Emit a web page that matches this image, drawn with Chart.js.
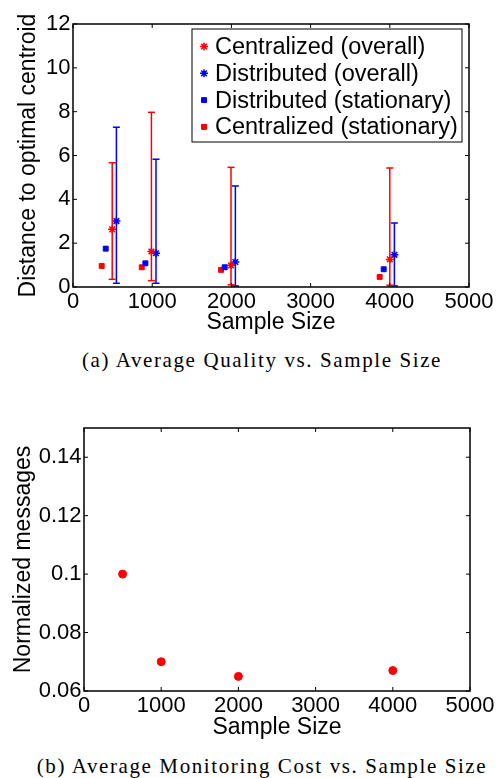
<!DOCTYPE html>
<html>
<head>
<meta charset="utf-8">
<script src="https://cdn.jsdelivr.net/npm/chart.js@4.4.1/dist/chart.umd.min.js"></script>
<style>
  body { margin:0; background:#fff; width:498px; height:778px; position:relative; overflow:hidden; }
  canvas { position:absolute; left:0; }
  #c1 { top:0; }
  #c2 { top:380px; }
  .cap { position:absolute; left:0; width:498px; padding-left:26px; box-sizing:border-box; text-align:center;
         font-family:"Liberation Serif", serif; font-size:21px; line-height:24px; letter-spacing:1.6px; color:#000; white-space:nowrap; }
</style>
</head>
<body>
<canvas id="c1" width="498" height="340"></canvas>
<div class="cap" style="top:348px">(a) Average Quality vs. Sample Size</div>
<canvas id="c2" width="498" height="365"></canvas>
<div class="cap" style="top:754px">(b) Average Monitoring Cost vs. Sample Size</div>
<script>
// tick labels
const xTicks = [0, 1000, 2000, 3000, 4000, 5000];
const qualityTicks = [0, 2, 4, 6, 8, 10, 12];
const costTicks = [0.06, 0.08, 0.1, 0.12, 0.14];

// (a) quality — markers are slightly offset around each sample size
const centOverallX = [495, 990, 1995, 4000];
const centOverall = [2.63, 1.62, 0.99, 1.26];
const centLow = [0.35, 0.29, 0.10, 0.08];
const centHigh = [5.67, 7.97, 5.46, 5.43];

const distOverallX = [548, 1048, 2050, 4058];
const distOverall = [3.01, 1.54, 1.14, 1.47];
const distLow = [0.17, 0.17, 0.05, 0.05];
const distHigh = [7.29, 5.83, 4.61, 2.92];

const distStatX = [413, 914, 1915, 3923];
const distStat = [1.75, 1.08, 0.90, 0.81];

const centStatX = [362, 868, 1869, 3872];
const centStat = [0.96, 0.90, 0.78, 0.46];

// (b) monitoring cost
const sampleSizes = [500, 1000, 2000, 4000];
const normMessages = [0.100, 0.070, 0.065, 0.067];

const RED = '#ff0000';
const BLUE = '#0000ff';

Chart.defaults.font.family = '"Liberation Sans", Arial, sans-serif';
Chart.defaults.color = '#000';

const pts = (xs, ys) => xs.map((x, i) => ({x: x, y: ys[i]}));

// matlab style box with inward ticks on all four sides
const frame = {
  id: 'frame',
  afterDatasetsDraw(chart) {
    const {ctx, chartArea: a, scales: {x, y}} = chart;
    ctx.save();
    ctx.strokeStyle = '#000';
    ctx.lineWidth = 1;
    ctx.beginPath();
    x.ticks.forEach(t => {
      const px = x.getPixelForValue(t.value);
      ctx.moveTo(px, a.bottom); ctx.lineTo(px, a.bottom - 4);
      ctx.moveTo(px, a.top); ctx.lineTo(px, a.top + 4);
    });
    y.ticks.forEach(t => {
      const py = y.getPixelForValue(t.value);
      ctx.moveTo(a.left, py); ctx.lineTo(a.left + 4, py);
      ctx.moveTo(a.right, py); ctx.lineTo(a.right - 4, py);
    });
    ctx.stroke();
    ctx.lineWidth = 1.5;
    ctx.strokeRect(a.left, a.top, a.right - a.left, a.bottom - a.top);
    ctx.restore();
  }
};

// legend box inside the plot (top right)
const boxLegend = {
  id: 'boxLegend',
  afterDraw(chart) {
    const items = chart.data.datasets.filter(d => d.label);
    const {ctx, chartArea: a} = chart;
    const left = a.left + 119, top = a.top + 5, w = 270, h = 113;
    ctx.save();
    ctx.fillStyle = '#fff';
    ctx.fillRect(left, top, w, h);
    ctx.strokeStyle = '#000';
    ctx.lineWidth = 1;
    ctx.strokeRect(left, top, w, h);
    ctx.font = '23.5px "Liberation Sans", Arial, sans-serif';
    ctx.textBaseline = 'middle';
    items.forEach((d, i) => {
      const cy = top + 17.5 + i * 26.8;
      ctx.fillStyle = d.pointBackgroundColor;
      ctx.strokeStyle = d.pointBorderColor;
      ctx.lineWidth = d.pointBorderWidth;
      Chart.helpers.drawPoint(ctx, {pointStyle: d.pointStyle, radius: d.pointRadius, rotation: 0, borderWidth: d.pointBorderWidth}, left + 12, cy);
      ctx.fillStyle = '#000';
      ctx.fillText(d.label, left + 23, cy + 1);
    });
    ctx.restore();
  }
};

function errorBars(xs, lows, highs, color) {
  return xs.map((x, i) => ({
    data: [{x: x, y: lows[i]}, {x: x, y: highs[i]}],
    showLine: true,
    borderColor: color,
    borderWidth: 1.5,
    pointStyle: 'line',
    pointRadius: 3.5,
    pointBorderColor: color,
    pointBorderWidth: 1.5
  }));
}

function markers(label, xs, ys, color, style, r, bw) {
  return {
    label: label,
    data: pts(xs, ys),
    pointStyle: style,
    pointRadius: r,
    pointBackgroundColor: color,
    pointBorderColor: color,
    pointBorderWidth: bw,
    showLine: false
  };
}

function xScale(h, titlePad) {
  return {
    type: 'linear', min: 0, max: 5000,
    afterBuildTicks: s => { s.ticks = xTicks.map(v => ({value: v})); },
    afterFit: s => { s.height = h; },
    grid: {display: false, drawTicks: false},
    border: {display: false},
    ticks: {font: {size: 22}, padding: 2, maxRotation: 0, autoSkip: false, callback: v => String(v)},
    title: {display: true, text: 'Sample Size', font: {size: 23}, padding: {top: 0, bottom: titlePad}}
  };
}

function yScale(min, max, tickVals, w, text, titlePad) {
  return {
    type: 'linear', min: min, max: max,
    afterBuildTicks: s => { s.ticks = tickVals.map(v => ({value: v})); },
    afterFit: s => { s.width = w; },
    grid: {display: false, drawTicks: false},
    border: {display: false},
    ticks: {font: {size: 22}, padding: 2.5, autoSkip: false, callback: v => String(v)},
    title: {display: true, text: text, font: {size: 23}, padding: {top: titlePad, bottom: 0}}
  };
}

new Chart(document.getElementById('c1'), {
  type: 'scatter',
  data: {
    datasets: [
      ...errorBars(centOverallX, centLow, centHigh, RED),
      ...errorBars(distOverallX, distLow, distHigh, BLUE),
      markers('Centralized (overall)', centOverallX, centOverall, RED, 'star', 4, 1.5),
      markers('Distributed (overall)', distOverallX, distOverall, BLUE, 'star', 4, 1.5),
      markers('Distributed (stationary)', distStatX, distStat, BLUE, 'rect', 3.5, 1),
      markers('Centralized (stationary)', centStatX, centStat, RED, 'rect', 3.5, 1)
    ]
  },
  options: {
    responsive: false,
    animation: false,
    layout: {padding: {top: 24, right: 29, left: 0, bottom: 0}},
    plugins: {legend: {display: false}, tooltip: {enabled: false}},
    scales: {
      x: xScale(53, 4),
      y: yScale(0, 12, qualityTicks, 73, 'Distance to optimal centroid', 15)
    }
  },
  plugins: [frame, boxLegend]
});

new Chart(document.getElementById('c2'), {
  type: 'scatter',
  data: {
    datasets: [
      markers('Normalized messages', sampleSizes, normMessages, RED, 'circle', 4, 1)
    ]
  },
  options: {
    responsive: false,
    animation: false,
    layout: {padding: {top: 48, right: 28, left: 0, bottom: 0}},
    plugins: {legend: {display: false}, tooltip: {enabled: false}},
    scales: {
      x: xScale(54, 3.5),
      y: yScale(0.06, 0.15, costTicks, 84, 'Normalized messages', 10)
    }
  },
  plugins: [frame]
});
</script>
</body>
</html>
